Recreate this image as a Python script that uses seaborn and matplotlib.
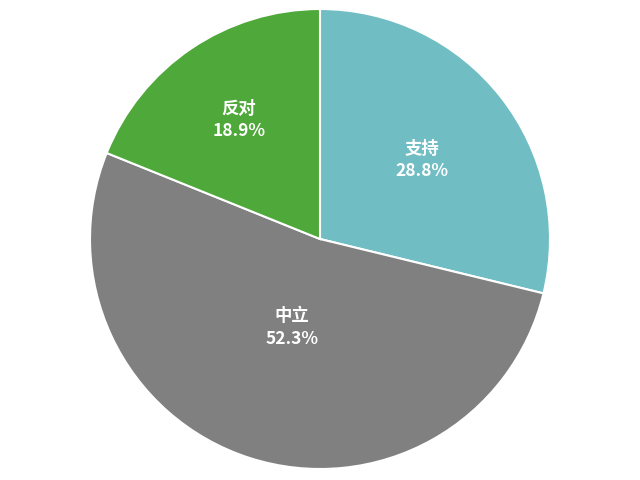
import matplotlib
matplotlib.use("Agg")
import matplotlib.pyplot as plt
import numpy as np
import seaborn as sns

labels = ["支持", "中立", "反对"]
shares = [28.8, 52.3, 18.9]
colors = ["#70bec4", "#808080", "#4ea83a"]
label_dist = [0.565, 0.40, 0.63]

sns.set_theme(style="white")
plt.rcParams["font.family"] = ["Noto Sans CJK SC", "DejaVu Sans"]

fig = plt.figure(figsize=(6.4, 4.81), dpi=100)
ax = fig.add_axes([90 / 640, 11 / 481, 460 / 640, 460 / 481])

wedges, texts = ax.pie(
    shares,
    colors=colors,
    startangle=90,
    counterclock=False,
    labels=[f"{l}\n{s:.1f}%" for l, s in zip(labels, shares)],
    labeldistance=0.5,
    wedgeprops={"edgecolor": "white", "linewidth": 1.5},
    textprops={"color": "white", "fontsize": 12.5, "fontweight": "bold",
               "ha": "center", "va": "center", "linespacing": 1.3},
)
# move labels to where they sit in the original
for w, t, d in zip(wedges, texts, label_dist):
    ang = np.deg2rad((w.theta1 + w.theta2) / 2)
    t.set_position((d * np.cos(ang), d * np.sin(ang)))

ax.set_xlim(-1, 1)
ax.set_ylim(-1, 1)
ax.set_aspect("equal")

fig.savefig("out.png", dpi=100)
